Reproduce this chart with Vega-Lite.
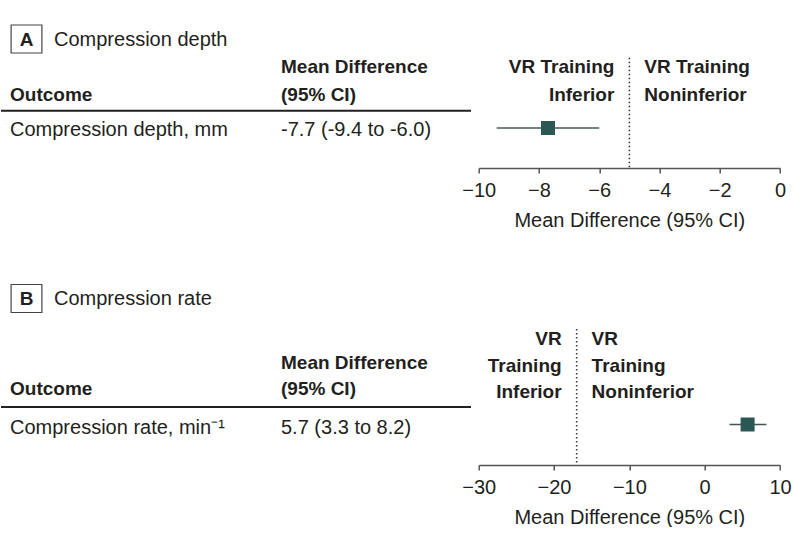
{
  "$schema": "https://vega.github.io/schema/vega-lite/v6.json",
  "padding": 0,
  "autosize": {"type": "pad"},
  "bounds": "flush",
  "columns": 2,
  "spacing": {"row": 112, "column": 7.7},
  "datasets": {
    "a_title": [{"letter": "A", "title": "Compression depth"}],
    "b_title": [{"letter": "B", "title": "Compression rate"}],
    "a_head": [
      {"row": "h1", "col": "c2", "text": "Mean Difference"},
      {"row": "h2", "col": "c1", "text": "Outcome"},
      {"row": "h2", "col": "c2", "text": "(95% CI)"}
    ],
    "b_head": [
      {"row": "h1", "col": "c2", "text": "Mean Difference"},
      {"row": "h2", "col": "c1", "text": "Outcome"},
      {"row": "h2", "col": "c2", "text": "(95% CI)"}
    ],
    "a_est": [{"outcome": "Compression depth, mm", "estimate": "-7.7 (-9.4 to -6.0)", "mean": -7.7, "lo": -9.4, "hi": -6.0, "margin": -5}],
    "b_est": [{"outcome": "Compression rate, min⁻¹", "estimate": "5.7 (3.3 to 8.2)", "mean": 5.7, "lo": 3.3, "hi": 8.2, "margin": -17}],
    "a_side": [
      {"row": "h1", "side": "Inferior", "label": "VR Training", "margin": -5},
      {"row": "h2", "side": "Inferior", "label": "Inferior", "margin": -5},
      {"row": "h1", "side": "Noninferior", "label": "VR Training", "margin": -5},
      {"row": "h2", "side": "Noninferior", "label": "Noninferior", "margin": -5}
    ],
    "b_side": [
      {"row": "h0", "side": "Inferior", "label": "VR", "margin": -17},
      {"row": "h1", "side": "Inferior", "label": "Training", "margin": -17},
      {"row": "h2", "side": "Inferior", "label": "Inferior", "margin": -17},
      {"row": "h0", "side": "Noninferior", "label": "VR", "margin": -17},
      {"row": "h1", "side": "Noninferior", "label": "Training", "margin": -17},
      {"row": "h2", "side": "Noninferior", "label": "Noninferior", "margin": -17}
    ]
  },
  "concat": [
    {
      "width": 470,
      "height": 168,
      "layer": [
        {
          "data": {"name": "a_title"},
          "mark": {"type": "point", "shape": "M-1.1,-1L1.1,-1L1.1,1L-1.1,1Z", "size": 784, "filled": false, "stroke": "#444444", "strokeWidth": 1.2, "opacity": 1, "xOffset": 16.5, "yOffset": -7},
          "encoding": {
            "x": {"datum": "c1", "type": "nominal", "scale": {"type": "point", "domain": ["c1", "c2"], "range": [9, 280], "padding": 0}, "axis": null},
            "y": {"datum": "title", "type": "nominal", "scale": {"type": "point", "domain": ["title", "h1", "h2", "data"], "range": [46, 128], "padding": 0}, "axis": null}
          }
        },
        {
          "data": {"name": "a_title"},
          "mark": {"type": "text", "fontWeight": "bold", "fontSize": 19, "align": "center", "baseline": "alphabetic", "dx": 16.5},
          "encoding": {
            "x": {"datum": "c1", "type": "nominal"},
            "y": {"datum": "title", "type": "nominal"},
            "text": {"field": "letter"}
          }
        },
        {
          "data": {"name": "a_title"},
          "mark": {"type": "text", "fontSize": 20, "align": "left", "baseline": "alphabetic", "dx": 44},
          "encoding": {
            "x": {"datum": "c1", "type": "nominal"},
            "y": {"datum": "title", "type": "nominal"},
            "text": {"field": "title"}
          }
        },
        {
          "data": {"name": "a_head"},
          "mark": {"type": "text", "fontWeight": "bold", "fontSize": 19, "align": "left", "baseline": "alphabetic"},
          "encoding": {
            "x": {"field": "col", "type": "nominal"},
            "y": {"field": "row", "type": "nominal"},
            "text": {"field": "text"}
          }
        },
        {
          "data": {"name": "a_est"},
          "mark": {"type": "rule", "strokeWidth": 2, "color": "#231f20", "yOffset": 10},
          "encoding": {
            "y": {"datum": "h2", "type": "nominal"}
          }
        },
        {
          "data": {"name": "a_est"},
          "mark": {"type": "text", "fontSize": 20, "align": "left", "baseline": "alphabetic", "dy": 8},
          "encoding": {
            "x": {"datum": "c1", "type": "nominal"},
            "y": {"datum": "data", "type": "nominal"},
            "text": {"field": "outcome"}
          }
        },
        {
          "data": {"name": "a_est"},
          "mark": {"type": "text", "fontSize": 20, "align": "left", "baseline": "alphabetic", "dy": 8},
          "encoding": {
            "x": {"datum": "c2", "type": "nominal"},
            "y": {"datum": "data", "type": "nominal"},
            "text": {"field": "estimate"}
          }
        }
      ]
    },
    {
      "width": 301.3,
      "height": 168,
      "layer": [
        {
          "data": {"name": "a_est"},
          "mark": {"type": "rule", "strokeDash": [1.5, 2.5], "strokeWidth": 1.5, "color": "#333333", "yOffset": -15.5},
          "encoding": {
            "x": {"field": "margin", "type": "quantitative", "scale": {"domain": [-10, 0], "nice": false, "zero": false},
                  "axis": {"values": [-10, -8, -6, -4, -2, 0], "title": "Mean Difference (95% CI)"}},
            "y": {"datum": "h1", "type": "nominal", "scale": {"type": "point", "domain": ["h1", "h2", "data"], "range": [73.3, 128], "padding": 0}, "axis": null},
            "y2": {"value": "height"}
          }
        },
        {
          "data": {"name": "a_side"},
          "transform": [{"filter": "datum.side === 'Inferior'"}],
          "mark": {"type": "text", "fontWeight": "bold", "fontSize": 19, "align": "right", "baseline": "alphabetic", "dx": -15},
          "encoding": {
            "x": {"field": "margin", "type": "quantitative"},
            "y": {"field": "row", "type": "nominal"},
            "text": {"field": "label"}
          }
        },
        {
          "data": {"name": "a_side"},
          "transform": [{"filter": "datum.side === 'Noninferior'"}],
          "mark": {"type": "text", "fontWeight": "bold", "fontSize": 19, "align": "left", "baseline": "alphabetic", "dx": 15},
          "encoding": {
            "x": {"field": "margin", "type": "quantitative"},
            "y": {"field": "row", "type": "nominal"},
            "text": {"field": "label"}
          }
        },
        {
          "data": {"name": "a_est"},
          "mark": {"type": "rule", "strokeWidth": 1.4, "color": "#465454"},
          "encoding": {
            "x": {"field": "lo", "type": "quantitative"},
            "x2": {"field": "hi"},
            "y": {"datum": "data", "type": "nominal"}
          }
        },
        {
          "data": {"name": "a_est"},
          "mark": {"type": "point", "shape": "square", "filled": true, "size": 196, "color": "#2b5754", "opacity": 1},
          "encoding": {
            "x": {"field": "mean", "type": "quantitative"},
            "y": {"datum": "data", "type": "nominal"}
          }
        }
      ]
    },
    {
      "width": 470,
      "height": 185,
      "layer": [
        {
          "data": {"name": "b_title"},
          "mark": {"type": "point", "shape": "M-1.1,-1L1.1,-1L1.1,1L-1.1,1Z", "size": 784, "filled": false, "stroke": "#444444", "strokeWidth": 1.2, "opacity": 1, "xOffset": 16.5, "yOffset": -19.5},
          "encoding": {
            "x": {"datum": "c1", "type": "nominal", "scale": {"type": "point", "domain": ["c1", "c2"], "range": [9, 280], "padding": 0}, "axis": null},
            "y": {"datum": "title", "type": "nominal", "scale": {"type": "point", "domain": ["title", "gap", "h1", "h2", "data"], "range": [38, 140], "padding": 0}, "axis": null}
          }
        },
        {
          "data": {"name": "b_title"},
          "mark": {"type": "text", "fontWeight": "bold", "fontSize": 19, "align": "center", "baseline": "alphabetic", "dx": 16.5, "dy": -13},
          "encoding": {
            "x": {"datum": "c1", "type": "nominal"},
            "y": {"datum": "title", "type": "nominal"},
            "text": {"field": "letter"}
          }
        },
        {
          "data": {"name": "b_title"},
          "mark": {"type": "text", "fontSize": 20, "align": "left", "baseline": "alphabetic", "dx": 44, "dy": -13},
          "encoding": {
            "x": {"datum": "c1", "type": "nominal"},
            "y": {"datum": "title", "type": "nominal"},
            "text": {"field": "title"}
          }
        },
        {
          "data": {"name": "b_head"},
          "mark": {"type": "text", "fontWeight": "bold", "fontSize": 19, "align": "left", "baseline": "alphabetic"},
          "encoding": {
            "x": {"field": "col", "type": "nominal"},
            "y": {"field": "row", "type": "nominal"},
            "text": {"field": "text"}
          }
        },
        {
          "data": {"name": "b_est"},
          "mark": {"type": "rule", "strokeWidth": 2, "color": "#231f20", "yOffset": 12.5},
          "encoding": {
            "y": {"datum": "h2", "type": "nominal"}
          }
        },
        {
          "data": {"name": "b_est"},
          "mark": {"type": "text", "fontSize": 20, "align": "left", "baseline": "alphabetic", "dy": 14},
          "encoding": {
            "x": {"datum": "c1", "type": "nominal"},
            "y": {"datum": "data", "type": "nominal"},
            "text": {"field": "outcome"}
          }
        },
        {
          "data": {"name": "b_est"},
          "mark": {"type": "text", "fontSize": 20, "align": "left", "baseline": "alphabetic", "dy": 14},
          "encoding": {
            "x": {"datum": "c2", "type": "nominal"},
            "y": {"datum": "data", "type": "nominal"},
            "text": {"field": "estimate"}
          }
        }
      ]
    },
    {
      "width": 301.3,
      "height": 185,
      "layer": [
        {
          "data": {"name": "b_est"},
          "mark": {"type": "rule", "strokeDash": [1.5, 2.5], "strokeWidth": 1.5, "color": "#333333", "yOffset": -16},
          "encoding": {
            "x": {"field": "margin", "type": "quantitative", "scale": {"domain": [-30, 10], "nice": false, "zero": false},
                  "axis": {"values": [-30, -20, -10, 0, 10], "title": "Mean Difference (95% CI)"}},
            "y": {"datum": "h0", "type": "nominal", "scale": {"type": "point", "domain": ["h0", "h1", "h2", "data"], "range": [65, 144.5], "padding": 0}, "axis": null},
            "y2": {"value": "height"}
          }
        },
        {
          "data": {"name": "b_side"},
          "transform": [{"filter": "datum.side === 'Inferior'"}],
          "mark": {"type": "text", "fontWeight": "bold", "fontSize": 19, "align": "right", "baseline": "alphabetic", "dx": -15},
          "encoding": {
            "x": {"field": "margin", "type": "quantitative"},
            "y": {"field": "row", "type": "nominal"},
            "text": {"field": "label"}
          }
        },
        {
          "data": {"name": "b_side"},
          "transform": [{"filter": "datum.side === 'Noninferior'"}],
          "mark": {"type": "text", "fontWeight": "bold", "fontSize": 19, "align": "left", "baseline": "alphabetic", "dx": 15},
          "encoding": {
            "x": {"field": "margin", "type": "quantitative"},
            "y": {"field": "row", "type": "nominal"},
            "text": {"field": "label"}
          }
        },
        {
          "data": {"name": "b_est"},
          "mark": {"type": "rule", "strokeWidth": 1.4, "color": "#465454"},
          "encoding": {
            "x": {"field": "lo", "type": "quantitative"},
            "x2": {"field": "hi"},
            "y": {"datum": "data", "type": "nominal"}
          }
        },
        {
          "data": {"name": "b_est"},
          "mark": {"type": "point", "shape": "square", "filled": true, "size": 196, "color": "#2b5754", "opacity": 1},
          "encoding": {
            "x": {"field": "mean", "type": "quantitative"},
            "y": {"datum": "data", "type": "nominal"}
          }
        }
      ]
    }
  ],
  "config": {
    "font": "Liberation Sans",
    "background": "white",
    "view": {"stroke": null},
    "scale": {"pointPadding": 0},
    "text": {"color": "#231f20", "fontSize": 20},
    "axis": {
      "grid": false,
      "labelFontSize": 20,
      "labelFont": "Liberation Sans",
      "labelColor": "#231f20",
      "titleFontSize": 20,
      "titleFont": "Liberation Sans",
      "titleFontWeight": "normal",
      "titleColor": "#231f20",
      "domainColor": "#555555",
      "domainWidth": 1.5,
      "tickColor": "#555555",
      "tickWidth": 1.5,
      "tickSize": 5,
      "labelPadding": 7,
      "titlePadding": 10,
      "labelFlush": false,
      "labelOverlap": false
    }
  }
}
